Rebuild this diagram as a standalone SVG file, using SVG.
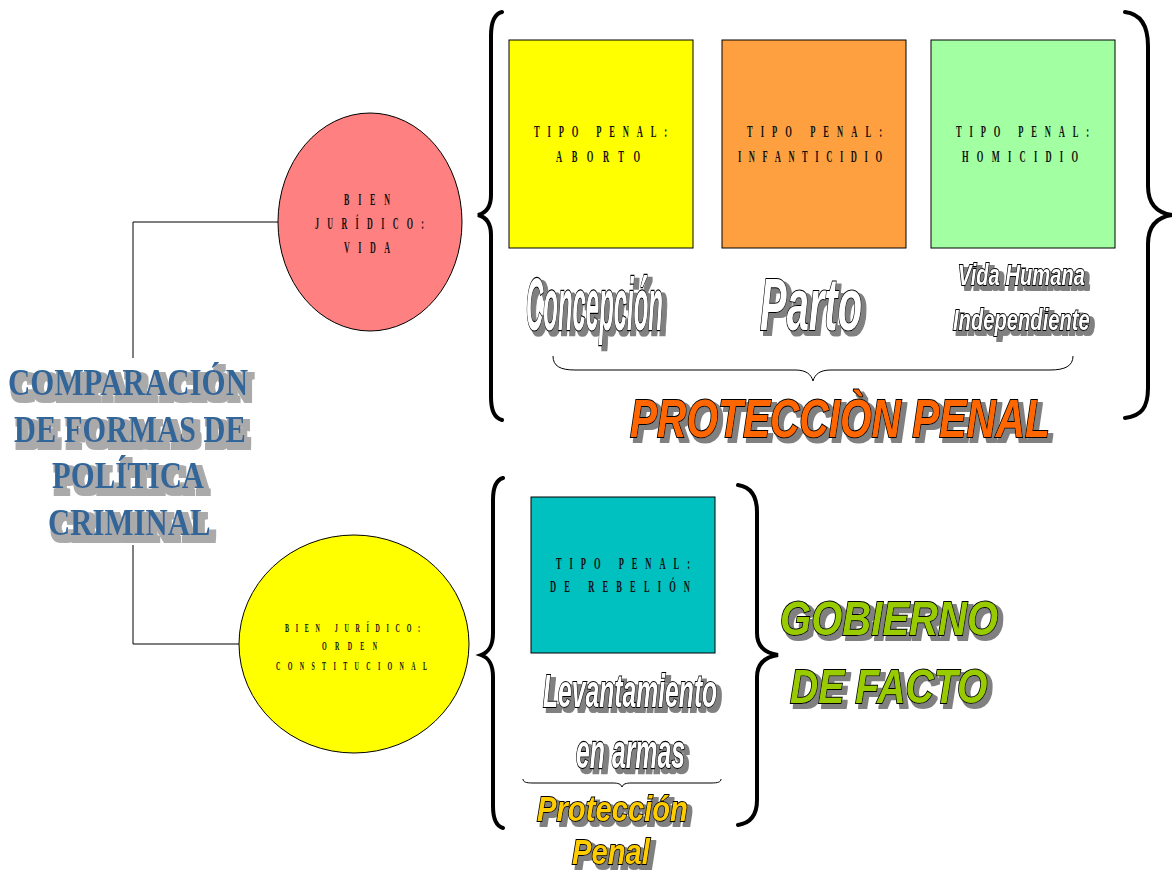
<svg xmlns="http://www.w3.org/2000/svg" width="1172" height="870" viewBox="0 0 1172 870">
  <defs>
    <style>
      .box { stroke: #000; stroke-width: 1; }
      .tag { font-family: "Liberation Serif", "Times New Roman", serif; font-weight: bold; fill: #111; }
      .title { font-family: "Liberation Serif", "Times New Roman", serif; font-weight: bold; font-size: 38px; fill: #336699; }
      .word { font-family: "Liberation Sans", Arial, sans-serif; font-weight: bold; font-style: italic; stroke: #000; stroke-width: 1.8; paint-order: stroke fill; vector-effect: non-scaling-stroke; }
      .white { fill: #fff; }
      .orange { fill: #ff6600; }
      .lime { fill: #99cc00; }
      .gold { fill: #ffcc00; }
      .brace { fill: none; stroke: #000; stroke-width: 4; stroke-linecap: round; }
      .thin { fill: none; stroke: #000; stroke-width: 1; }
      .link { fill: none; stroke: #000; stroke-width: 1; }
    </style>
    <!-- grey block drop shadow used by the display lettering -->
    <filter id="shadow" filterUnits="userSpaceOnUse" x="0" y="0" width="1172" height="870">
      <feMorphology in="SourceAlpha" operator="dilate" radius="1.2" result="fat"/>
      <feOffset in="fat" dx="4" dy="4" result="off"/>
      <feFlood flood-color="#808080"/>
      <feComposite in2="off" operator="in" result="sh"/>
      <feMerge><feMergeNode in="sh"/><feMergeNode in="SourceGraphic"/></feMerge>
    </filter>
    <filter id="shadowTitle" filterUnits="userSpaceOnUse" x="0" y="0" width="1172" height="870">
      <feMorphology in="SourceAlpha" operator="dilate" radius="2.5" result="fat"/>
      <feOffset in="fat" dx="4" dy="5" result="off"/>
      <feFlood flood-color="#aaaaaa"/>
      <feComposite in2="off" operator="in" result="sh"/>
      <feMerge><feMergeNode in="sh"/><feMergeNode in="SourceGraphic"/></feMerge>
    </filter>
  </defs>

  <rect width="1172" height="870" fill="#fff"/>

  <!-- connectors from the title to both legal goods -->
  <g id="connectors">
    <polyline class="link" points="278,222 133,222 133,358"/>
    <polyline class="link" points="133,545 133,644 239,644"/>
  </g>

  <!-- title (condensed serif capitals) -->
  <g id="title" filter="url(#shadowTitle)">
    <text class="title" transform="translate(8,395) scale(0.787,1)" textLength="305" lengthAdjust="spacingAndGlyphs">COMPARACIÓN</text>
    <text class="title" transform="translate(14,442) scale(0.802,1)" textLength="289" lengthAdjust="spacingAndGlyphs">DE FORMAS DE</text>
    <text class="title" transform="translate(52,488) scale(0.809,1)" textLength="188" lengthAdjust="spacingAndGlyphs">POLÍTICA</text>
    <text class="title" transform="translate(48,535) scale(0.813,1)" textLength="200" lengthAdjust="spacingAndGlyphs">CRIMINAL</text>
  </g>

  <!-- legal good: life -->
  <g id="bien-vida">
    <ellipse class="box" cx="370" cy="222" rx="92" ry="109" fill="#ff8080"/>
    <text class="tag" font-size="16" transform="translate(344,205) scale(0.5,1)" textLength="92" lengthAdjust="spacing">BIEN</text>
    <text class="tag" font-size="16" transform="translate(315,229) scale(0.5,1)" textLength="218" lengthAdjust="spacing">JURÍDICO:</text>
    <text class="tag" font-size="16" transform="translate(344,253) scale(0.5,1)" textLength="92" lengthAdjust="spacing">VIDA</text>
  </g>

  <!-- legal good: constitutional order -->
  <g id="bien-orden">
    <ellipse class="box" cx="354" cy="644" rx="115" ry="109" fill="#ffff00"/>
    <text class="tag" font-size="12" transform="translate(285,632) scale(0.5,1)" textLength="270" lengthAdjust="spacing">BIEN JURÍDICO:</text>
    <text class="tag" font-size="12" transform="translate(322,650) scale(0.5,1)" textLength="110" lengthAdjust="spacing">ORDEN</text>
    <text class="tag" font-size="12" transform="translate(276,670) scale(0.5,1)" textLength="302" lengthAdjust="spacing">CONSTITUCIONAL</text>
  </g>

  <!-- offence boxes -->
  <g id="tipo-aborto">
    <rect class="box" x="509" y="40" width="184" height="208" fill="#ffff00" stroke="#666"/>
    <text class="tag" font-size="17" transform="translate(534,137) scale(0.5,1)" textLength="266" lengthAdjust="spacing">TIPO PENAL:</text>
    <text class="tag" font-size="17" transform="translate(556,162) scale(0.5,1)" textLength="168" lengthAdjust="spacing">ABORTO</text>
  </g>
  <g id="tipo-infanticidio">
    <rect class="box" x="722" y="40" width="184" height="208" fill="#ffa040"/>
    <text class="tag" font-size="17" transform="translate(747,137) scale(0.5,1)" textLength="270" lengthAdjust="spacing">TIPO PENAL:</text>
    <text class="tag" font-size="17" transform="translate(738,162) scale(0.5,1)" textLength="288" lengthAdjust="spacing">INFANTICIDIO</text>
  </g>
  <g id="tipo-homicidio">
    <rect class="box" x="931" y="40" width="184" height="208" fill="#a2ffa2"/>
    <text class="tag" font-size="17" transform="translate(956,137) scale(0.5,1)" textLength="266" lengthAdjust="spacing">TIPO PENAL:</text>
    <text class="tag" font-size="17" transform="translate(962,162) scale(0.5,1)" textLength="232" lengthAdjust="spacing">HOMICIDIO</text>
  </g>
  <g id="tipo-rebelion">
    <rect class="box" x="531" y="497" width="184" height="156" fill="#00c0c0"/>
    <text class="tag" font-size="17" transform="translate(556,569) scale(0.5,1)" textLength="268" lengthAdjust="spacing">TIPO PENAL:</text>
    <text class="tag" font-size="17" transform="translate(550,592) scale(0.5,1)" textLength="280" lengthAdjust="spacing">DE REBELIÓN</text>
  </g>

  <!-- stages of protection (tall condensed lettering) -->
  <g id="etapas" filter="url(#shadow)">
    <text class="word white" font-size="74" stroke-width="2" transform="translate(526,330) scale(0.3235,1)" textLength="423.5" lengthAdjust="spacingAndGlyphs">Concepción</text>
    <text class="word white" font-size="74" stroke-width="2" transform="translate(760,330) scale(0.54,1)" textLength="189" lengthAdjust="spacingAndGlyphs">Parto</text>
    <text class="word white" font-size="30" stroke-width="1.2" transform="translate(958,285) scale(0.668,1)" textLength="190" lengthAdjust="spacingAndGlyphs">Vida Humana</text>
    <text class="word white" font-size="30" stroke-width="1.2" transform="translate(953,330) scale(0.674,1)" textLength="203" lengthAdjust="spacingAndGlyphs">Independiente</text>
  </g>

  <!-- braces -->
  <g id="llaves">
    <path class="brace" d="M502,12 C494,14 491,22 491,36 L491,195 C491,207 486,213 478,215 C486,217 491,223 491,235 L491,397 C491,410 494,418 502,420"/>
    <path class="brace" d="M1125,12 C1141,14 1148,26 1148,46 L1148,186 C1148,205 1158,213 1172,215 C1158,217 1148,225 1148,244 L1148,388 C1148,408 1141,416 1125,418"/>
    <path class="thin" d="M553,356 C553,366 560,370 575,370 L795,370 C806,370 811,374 813,381 C815,374 820,370 831,370 L1050,370 C1065,370 1073,366 1073,356" stroke-width="1.2"/>
    <path class="brace" d="M503,478 C496,480 493,488 493,500 L493,633 C493,646 489,652 481,655 C489,658 493,664 493,677 L493,806 C493,818 496,826 503,828"/>
    <path class="brace" d="M738,485 C751,487 757,497 757,512 L757,633 C757,647 765,653 778,655 C765,657 757,663 757,677 L757,800 C757,815 751,823 738,825"/>
    <path class="thin" d="M523,779 C523,782 526,783 533,783 L613,783 C618,783 621,784 622,787 C623,784 626,783 631,783 L711,783 C718,783 721,782 721,779"/>
  </g>

  <!-- protection labels -->
  <g id="proteccion" filter="url(#shadow)">
    <text class="word orange" font-size="54" transform="translate(630,437) scale(0.738,1)" textLength="569" lengthAdjust="spacingAndGlyphs">PROTECCIÒN PENAL</text>
  </g>
  <g id="gobierno" filter="url(#shadow)">
    <text class="word lime" font-size="49" transform="translate(780,635) scale(0.817,1)" textLength="267" lengthAdjust="spacingAndGlyphs">GOBIERNO</text>
    <text class="word lime" font-size="49" transform="translate(790,703) scale(0.79,1)" textLength="250" lengthAdjust="spacingAndGlyphs">DE FACTO</text>
  </g>
  <g id="levantamiento" filter="url(#shadow)">
    <text class="word white" font-size="46" transform="translate(543,707) scale(0.536,1)" textLength="325" lengthAdjust="spacingAndGlyphs">Levantamiento</text>
    <text class="word white" font-size="48" transform="translate(576,768) scale(0.517,1)" textLength="211" lengthAdjust="spacingAndGlyphs">en armas</text>
  </g>
  <g id="proteccion-penal" filter="url(#shadow)">
    <text class="word gold" font-size="35" stroke-width="1.4" transform="translate(537,821) scale(0.834,1)" textLength="181" lengthAdjust="spacingAndGlyphs">Protección</text>
    <text class="word gold" font-size="35" stroke-width="1.4" transform="translate(572,864) scale(0.835,1)" textLength="93.4" lengthAdjust="spacingAndGlyphs">Penal</text>
  </g>
</svg>
